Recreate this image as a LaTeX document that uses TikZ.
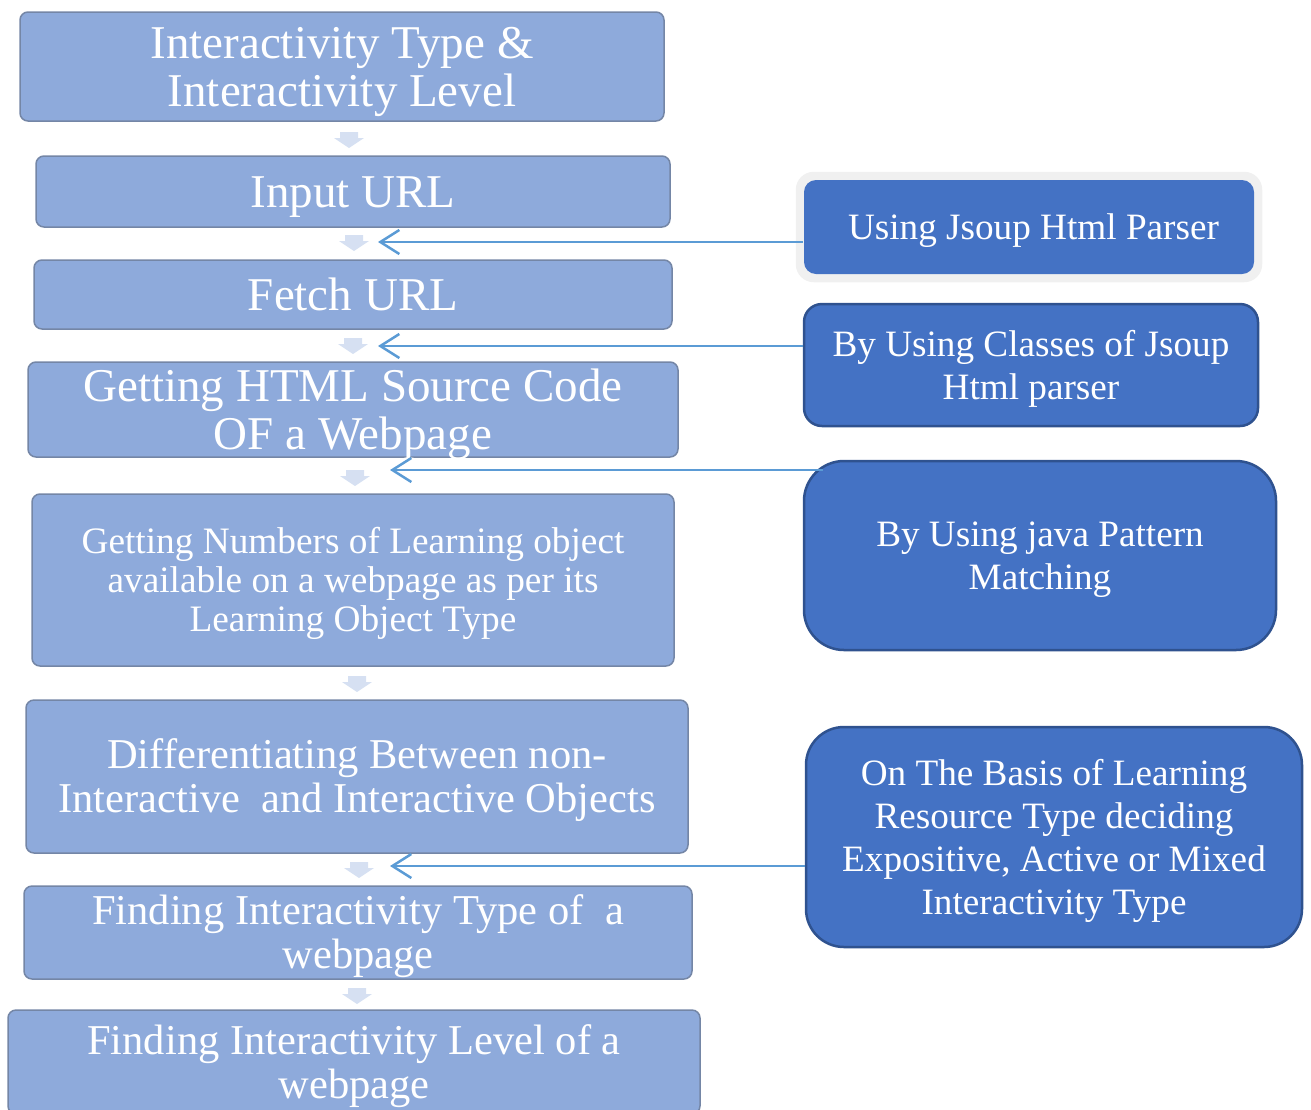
\documentclass[tikz,border=0pt]{standalone}
\usepackage{fontspec}
\setmainfont{Liberation Serif}
\usetikzlibrary{arrows.meta,backgrounds}
\definecolor{lbox}{HTML}{8EAADB}
\definecolor{lborder}{HTML}{7486A6}
\definecolor{dbox}{HTML}{4472C4}
\definecolor{dborder}{HTML}{2F528F}
\definecolor{connc}{HTML}{5B9BD5}
\definecolor{haloc}{HTML}{F0F0F0}
\definecolor{darr}{HTML}{D6E0F2}
\newcommand\fbig{\fontsize{47}{48}\selectfont}
\newcommand\fmid{\fontsize{42.5}{44}\selectfont}
\newcommand\fsml{\fontsize{37.3}{39}\selectfont}
\newcommand\frgt{\fontsize{37.2}{43}\selectfont}
\newcommand\ps{\rule{0pt}{0.891em}}
\newcommand\pe{\rule[-0.216em]{0pt}{0.216em}}
\begin{document}
\begin{tikzpicture}[x=1pt,y=-1pt,
  lstep/.style={draw=lborder, line width=1.5pt, fill=lbox, rounded corners=8pt,
    text=white, align=center, inner sep=0pt},
  rstep/.style={draw=dborder, line width=2.5pt, fill=dbox,
    text=white, align=center, inner sep=0pt, font=\frgt},
  link/.style={draw=connc, line width=2.5pt,
    -{Straight Barb[length=19pt,width=24pt,line width=2.5pt]}},
  darrow/.pic={\fill[darr] (-9,0) -- (9,0) -- (9,6) -- (15,6) -- (0,16) -- (-15,6) -- (-9,6) -- cycle;}
]
\useasboundingbox (0,0) rectangle (1311,1109);
\clip (0,0) rectangle (1311,1109);

% left column
\node[lstep, minimum width=644pt, minimum height=109pt, font=\fbig] (b1) at (342,66.5)
  {\ps Interactivity Type \&\\Interactivity Level\pe};
\node[lstep, minimum width=634pt, minimum height=71pt, font=\fbig] (b2) at (353,191.5)
  {\ps Input URL\pe};
\node[lstep, minimum width=638pt, minimum height=69pt, font=\fbig] (b3) at (353,294.5)
  {\ps Fetch URL\pe};
\node[lstep, inner ysep=-4pt, minimum width=650pt, minimum height=95pt, font=\fbig] (b4) at (353,409.5)
  {\ps Getting HTML Source Code\\OF a Webpage\pe};
\node[lstep, minimum width=642pt, minimum height=172pt, font=\fsml] (b5) at (353,580)
  {\ps Getting Numbers of Learning object\\available on a webpage as per its\\Learning Object Type\pe};
\node[lstep, minimum width=662pt, minimum height=153pt, font=\fmid] (b6) at (357,776.5)
  {\ps Differentiating Between non-\\Interactive\hspace{0.25em} and Interactive Objects\pe};
\node[lstep, minimum width=668pt, minimum height=93pt, font=\fmid] (b7) at (358,932.5)
  {\ps Finding Interactivity Type of\hspace{0.25em} a\\webpage\pe};
\node[lstep, minimum width=692pt, minimum height=104pt, font=\fmid] (b8) at (354,1062)
  {\ps Finding Interactivity Level of a\\webpage\pe};

% small down arrows
\pic at (349,132) {darrow};
\pic at (354,235) {darrow};
\pic at (353,338) {darrow};
\pic at (355,470) {darrow};
\pic at (357,676) {darrow};
\pic at (359,862) {darrow};
\pic at (357,988) {darrow};

% right column
\node[rstep, draw=none, rounded corners=12pt, minimum width=450pt, minimum height=94pt] (rA) at (1029,227)
  {\ps\hspace*{9pt}Using Jsoup Html Parser\pe};
\begin{scope}[on background layer]
  \fill[haloc, rounded corners=18pt] ([shift={(-7,-7)}]rA.north west) rectangle ([shift={(7,7)}]rA.south east);
\end{scope}
\node[rstep, rounded corners=18pt, minimum width=454pt, minimum height=122pt] (rB) at (1031,365)
  {\ps By Using Classes of Jsoup\\Html parser\pe};
\node[rstep, rounded corners=40pt, minimum width=472pt, minimum height=189pt] (rC) at (1040,555.5)
  {\ps By Using java Pattern\\Matching\pe};
\node[rstep, rounded corners=38pt, minimum width=496pt, minimum height=220pt] (rD) at (1054,837)
  {\ps On The Basis of Learning\\Resource Type deciding\\Expositive, Active or Mixed\\Interactivity Type\pe};

% connectors
\coordinate (t1) at (378,242);
\coordinate (t2) at (378,346);
\coordinate (t3) at (390,470);
\coordinate (t4) at (390,866);
\draw[link] (rA.west |- t1) -- (t1);
\draw[link] (rB.west |- t2) -- (t2);
\draw[link] ([xshift=20pt]rC.west |- t3) -- (t3);
\draw[link] (rD.west |- t4) -- (t4);
\end{tikzpicture}
\end{document}
